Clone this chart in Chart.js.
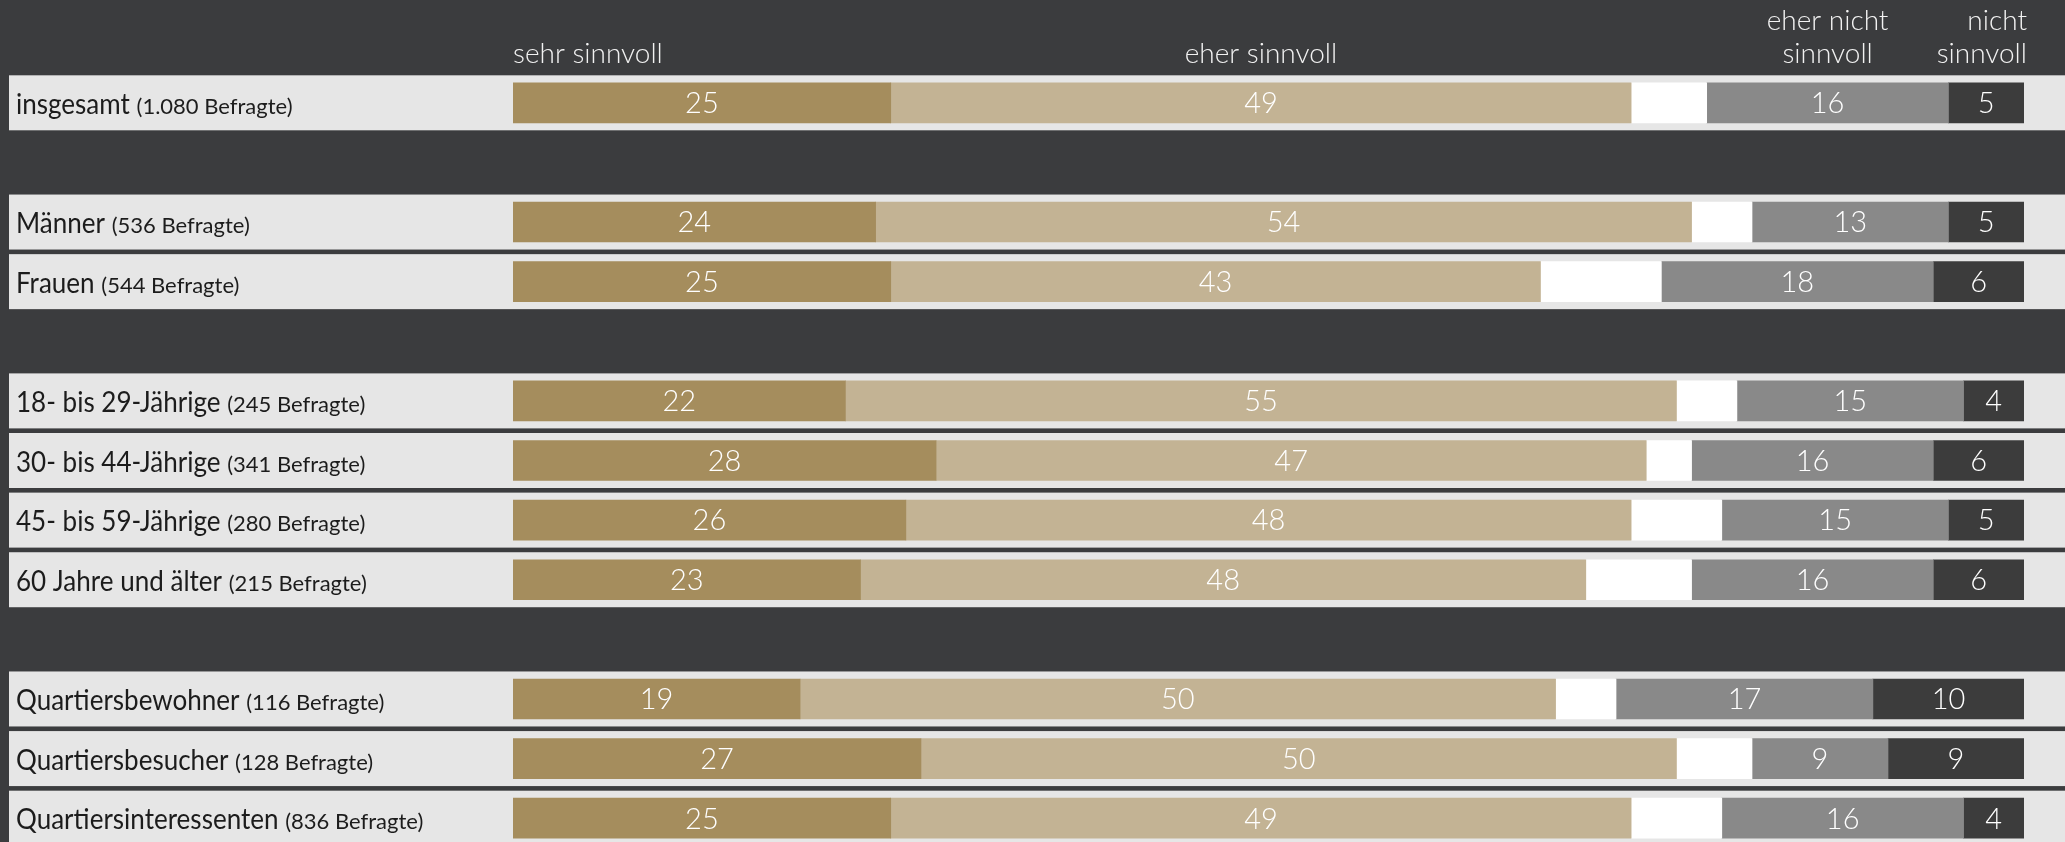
<!DOCTYPE html>
<html lang="de">
<head>
<meta charset="utf-8">
<title>Sinnvoll?</title>
<script src="https://cdn.jsdelivr.net/npm/chart.js@4/dist/chart.umd.min.js"></script>
<style>
    html, body {
        margin: 0;
        padding: 0;
        background: #3b3c3e;
        overflow: hidden;
    }
    #wrap {
        position: relative;
        width: 2065px;
        height: 880px;
    }
</style>
</head>
<body>
<div id="wrap"><canvas id="survey-chart"></canvas></div>
<script>
// Row labels (empty strings are spacer rows between groups)
const groupNames = [
    'insgesamt', '', 'Männer', 'Frauen', '',
    '18- bis 29-Jährige', '30- bis 44-Jährige', '45- bis 59-Jährige', '60 Jahre und älter', '',
    'Quartiersbewohner', 'Quartiersbesucher', 'Quartiersinteressenten'
];
const groupCounts = [
    '(1.080 Befragte)', '', '(536 Befragte)', '(544 Befragte)', '',
    '(245 Befragte)', '(341 Befragte)', '(280 Befragte)', '(215 Befragte)', '',
    '(116 Befragte)', '(128 Befragte)', '(836 Befragte)'
];

// Shares in percent
const sehrSinnvoll      = [25, null, 24, 25, null, 22, 28, 26, 23, null, 19, 27, 25];
const eherSinnvoll      = [49, null, 54, 43, null, 55, 47, 48, 48, null, 50, 50, 49];
const weissNicht        = [5,  null, 4,  8,  null, 4,  3,  6,  7,  null, 4,  5,  6];
const eherNichtSinnvoll = [16, null, 13, 18, null, 15, 16, 15, 16, null, 17, 9,  16];
const nichtSinnvoll     = [5,  null, 5,  6,  null, 4,  6,  5,  6,  null, 10, 9,  4];

const FONT = 'Lato, "Open Sans", sans-serif';
const NAME_SQUEEZE = 0.93; // group names are set a little narrower

// light band behind every non-empty row, plus the row label
const rowBands = {
    id: 'rowBands',
    beforeDatasetsDraw(chart) {
        const { ctx, scales: { y } } = chart;
        ctx.save();
        groupNames.forEach((name, i) => {
            if (!name) return;
            const cy = y.getPixelForValue(i);
            ctx.fillStyle = '#e6e6e6';
            ctx.fillRect(9, cy - 27.5, chart.width - 9, 55);

            const baseline = cy + 11;
            ctx.fillStyle = '#1c1c1c';
            ctx.textBaseline = 'alphabetic';
            ctx.textAlign = 'left';
            ctx.font = `28px ${FONT}`;
            const w = ctx.measureText(name + ' ').width * NAME_SQUEEZE;
            ctx.save();
            ctx.translate(16, baseline);
            ctx.scale(NAME_SQUEEZE, 1);
            ctx.fillText(name, 0, 0);
            ctx.restore();

            ctx.font = `22px ${FONT}`;
            ctx.fillText(groupCounts[i], 16 + w, baseline);
        });
        ctx.restore();
    }
};

// numbers inside the segments
const segmentLabels = {
    id: 'segmentLabels',
    afterDatasetsDraw(chart) {
        const { ctx } = chart;
        ctx.save();
        ctx.fillStyle = '#ffffff';
        ctx.font = `300 29px ${FONT}`;
        ctx.textAlign = 'center';
        ctx.textBaseline = 'middle';
        chart.data.datasets.forEach((ds, di) => {
            if (!ds.showValue) return;
            chart.getDatasetMeta(di).data.forEach((bar, i) => {
                const v = ds.data[i];
                if (v == null) return;
                const { x, base, y } = bar.getProps(['x', 'base', 'y'], true);
                ctx.fillText(v, (x + base) / 2, y + 1);
            });
        });
        ctx.restore();
    }
};

// column headings, placed over the first row's segments
const columnHeads = {
    id: 'columnHeads',
    afterDraw(chart) {
        const { ctx } = chart;
        ctx.save();
        ctx.fillStyle = '#f2f2f2';
        ctx.font = `300 28px ${FONT}`;
        ctx.textBaseline = 'alphabetic';
        chart.data.datasets.forEach((ds, di) => {
            if (!ds.head) return;
            const bar = chart.getDatasetMeta(di).data[0];
            const { x, base } = bar.getProps(['x', 'base'], true);
            let px;
            if (ds.headAlign === 'left') px = base;
            else if (ds.headAlign === 'right') px = x + 3;
            else px = (x + base) / 2;
            ctx.textAlign = ds.headAlign || 'center';
            const lines = ds.head;
            lines.forEach((line, li) => {
                ctx.fillText(line, px, 63 - (lines.length - 1 - li) * 33);
            });
        });
        ctx.restore();
    }
};

const makeSet = (label, data, color, extra) => Object.assign({
    label: label,
    data: data,
    backgroundColor: color,
    borderWidth: 0,
    barThickness: 40,
    showValue: true
}, extra);

new Chart(document.getElementById('survey-chart'), {
    type: 'bar',
    data: {
        labels: groupNames,
        datasets: [
            makeSet('sehr sinnvoll', sehrSinnvoll, '#a58d5d', { head: ['sehr sinnvoll'], headAlign: 'left' }),
            makeSet('eher sinnvoll', eherSinnvoll, '#c3b394', { head: ['eher sinnvoll'] }),
            makeSet('weiß nicht', weissNicht, '#ffffff', { showValue: false }),
            makeSet('eher nicht sinnvoll', eherNichtSinnvoll, '#898989', { head: ['eher nicht', 'sinnvoll'] }),
            makeSet('nicht sinnvoll', nichtSinnvoll, '#3c3c3c', { head: ['nicht', 'sinnvoll'], headAlign: 'right' })
        ]
    },
    options: {
        indexAxis: 'y',
        responsive: true,
        maintainAspectRatio: false,
        animation: false,
        layout: {
            padding: { left: 513, right: 41, top: 73, bottom: 32 }
        },
        scales: {
            x: { stacked: true, min: 0, max: 100, display: false },
            y: { stacked: true, display: false }
        },
        plugins: {
            legend: { display: false },
            tooltip: { enabled: false }
        }
    },
    plugins: [rowBands, segmentLabels, columnHeads]
});
</script>
</body>
</html>
